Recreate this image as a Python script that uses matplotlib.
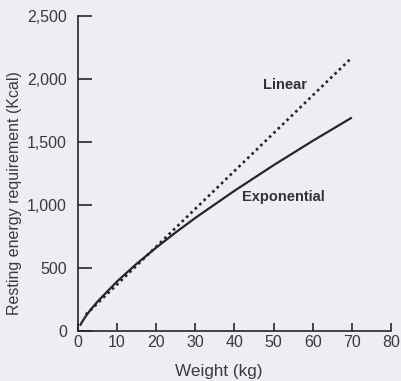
import matplotlib
matplotlib.use("Agg")
from matplotlib import pyplot as plt

# values
weight_exp = [0.5, 1, 2, 3, 5, 10, 15, 20, 25, 30, 40, 50, 60, 70]
kcal_exp = [42, 70, 118, 160, 234, 394, 534, 662, 783, 898, 1113, 1316, 1509, 1694]
weight_lin = [2, 70]
kcal_lin = [130, 2170]

x_ticks = [0, 10, 20, 30, 40, 50, 60, 70, 80]
y_ticks = [0, 500, 1000, 1500, 2000, 2500]
y_tick_labels = ["0", "500", "1,000", "1,500", "2,000", "2,500"]

bg = "#eceef2"
ink = "#262626"
plt.rcParams["font.family"] = ["Liberation Sans", "DejaVu Sans"]

fig = plt.figure(figsize=(4.01, 3.81), dpi=100, facecolor=bg)
ax = fig.add_axes([0.1945, 0.1312, 0.7805, 0.8268])
ax.set_facecolor(bg)

ax.plot(weight_exp, kcal_exp, color=ink, lw=1.6, solid_capstyle="butt")
ax.plot(weight_lin, kcal_lin, color=ink, lw=1.9, linestyle=(0, (1, 1.3)))

ax.text(53, 1950, "Linear", fontsize=10.5, fontweight="bold", color="#333333",
        ha="center", va="center")
ax.text(52.6, 1065, "Exponential", fontsize=10.5, fontweight="bold", color="#333333",
        ha="center", va="center")

ax.set_xlim(0, 80)
ax.set_ylim(0, 2500)
ax.set_xticks(x_ticks)
ax.set_yticks(y_ticks)
ax.set_yticklabels(y_tick_labels)

for side in ("top", "right"):
    ax.spines[side].set_visible(False)
for side in ("left", "bottom"):
    ax.spines[side].set_color(ink)
    ax.spines[side].set_linewidth(1.2)

ax.tick_params(axis="y", direction="in", length=10, width=1.2, color=ink,
               pad=8, labelsize=11.5, labelcolor="#3a3a3a")
ax.tick_params(axis="x", direction="in", length=6, width=1.2, color=ink,
               pad=3, labelsize=11.5, labelcolor="#3a3a3a")

ax.set_xlabel("Weight (kg)", fontsize=12.3, color="#3a3a3a")
ax.xaxis.set_label_coords(0.45, -0.13)
ax.set_ylabel("Resting energy requirement (Kcal)", fontsize=11.5, color="#3a3a3a")
ax.yaxis.set_label_coords(-0.204, 0.438)
ax.yaxis.label.set_va("center")
ax.xaxis.label.set_va("center")

fig.savefig("out.png", dpi=100, facecolor=bg)
